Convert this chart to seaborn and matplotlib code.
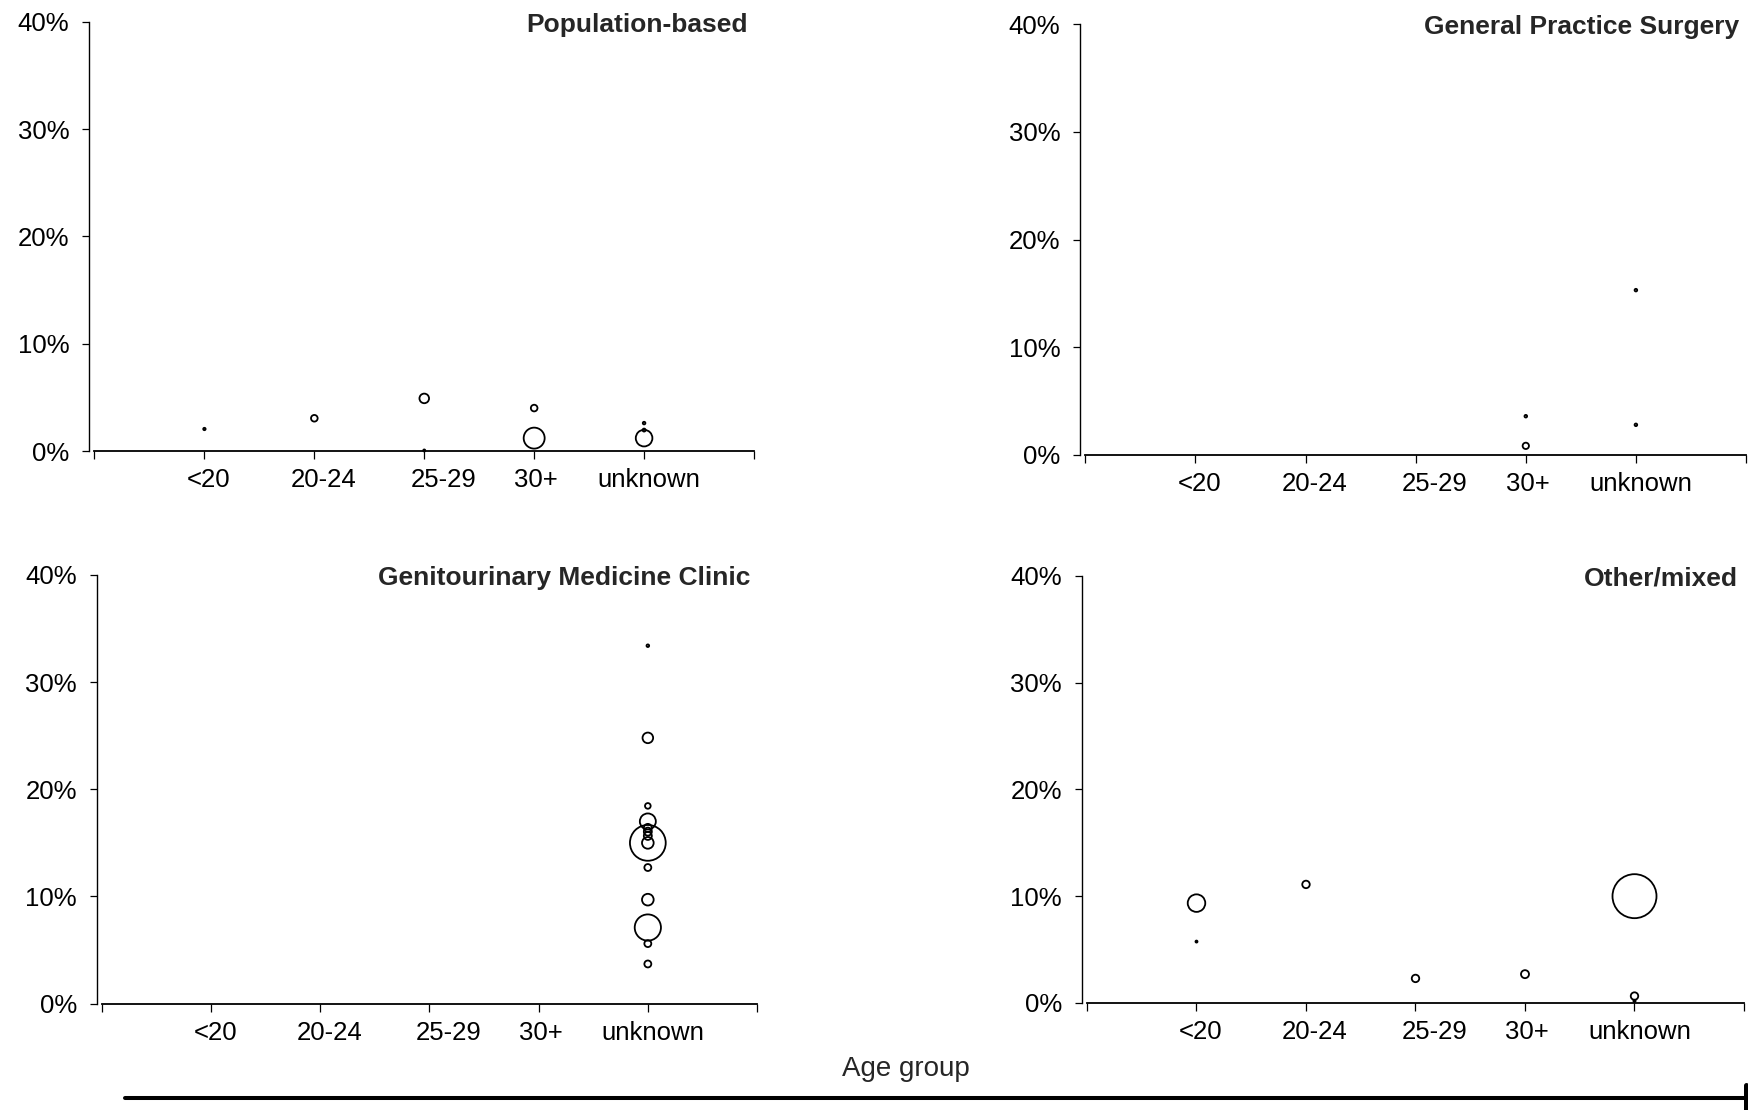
import matplotlib
matplotlib.use("Agg")
import matplotlib.pyplot as plt
from matplotlib.lines import Line2D
from matplotlib.ticker import FuncFormatter
from matplotlib.transforms import ScaledTranslation
import pandas as pd
import seaborn as sns

# ---- data -------------------------------------------------------------
AGE_GROUPS = ["<20", "20-24", "25-29", "30+", "unknown"]
Y_TICKS = [0, 10, 20, 30, 40]

# Population-based studies
pop_age = ["<20", "20-24", "25-29", "25-29", "30+", "30+", "unknown", "unknown", "unknown"]
pop_pct = [2.05, 3.05, 4.9, 0.05, 4.0, 1.2, 2.6, 1.95, 1.2]
pop_n = [14, 110, 230, 10, 110, 1100, 17, 22, 690]

# General practice surgery studies
gp_age = ["30+", "30+", "unknown", "unknown"]
gp_pct = [3.6, 0.85, 15.3, 2.8]
gp_n = [17, 100, 17, 17]

# Genitourinary medicine clinic studies
gum_age = ["unknown"] * 14
gum_pct = [33.4, 24.8, 18.45, 17.0, 16.4, 16.05, 15.65, 15.0, 15.0, 12.7, 9.7, 7.1, 5.6, 3.7]
gum_n = [17, 280, 80, 640, 160, 160, 160, 3200, 340, 120, 340, 1720, 120, 120]

# Other / mixed settings
oth_age = ["<20", "<20", "20-24", "25-29", "30+", "unknown", "unknown", "unknown"]
oth_pct = [9.35, 5.75, 11.1, 2.3, 2.7, 10.0, 0.65, 0.2]
oth_n = [770, 10, 140, 140, 160, 4840, 140, 12]

PANELS = [
    ("Population-based", pop_age, pop_pct, pop_n),
    ("General Practice Surgery", gp_age, gp_pct, gp_n),
    ("Genitourinary Medicine Clinic", gum_age, gum_pct, gum_n),
    ("Other/mixed", oth_age, oth_pct, oth_n),
]

# ---- layout -----------------------------------------------------------
W, H = 1749, 1110
# axes rectangles in pixels: (x0, x1, y_top, y_bottom)
RECTS_PX = [
    (94.5, 754.0, 21.7, 451.0),
    (1085.4, 1746.0, 24.0, 455.0),
    (102.0, 757.0, 575.0, 1003.6),
    (1087.0, 1744.0, 575.7, 1003.0),
]
# horizontal nudge (px) of each category label relative to its tick
LABEL_NUDGE_PX = [4, 9, 19, 2, 5]

N_MAX = 5000
S_MAX = 0.2074 * N_MAX  # marker area in pt^2 proportional to study size

sns.set_style("ticks")
plt.rcParams["font.family"] = ["Liberation Sans", "DejaVu Sans"]
plt.rcParams["axes.linewidth"] = 1.0
plt.rcParams["xtick.color"] = "black"
plt.rcParams["ytick.color"] = "black"
plt.rcParams["axes.edgecolor"] = "black"

fig = plt.figure(figsize=(W / 100, H / 100), dpi=100)

pos = {g: i + 1 for i, g in enumerate(AGE_GROUPS)}

for (title, ages, pct, n), (x0, x1, yt, yb) in zip(PANELS, RECTS_PX):
    ax = fig.add_axes([x0 / W, 1 - yb / H, (x1 - x0) / W, (yb - yt) / H])
    df = pd.DataFrame({"age": ages, "pct": pct, "n": n})
    df["xpos"] = df["age"].map(pos)
    sns.scatterplot(
        data=df, x="xpos", y="pct", size="n",
        sizes=(0, S_MAX), size_norm=(0, N_MAX),
        marker="o", facecolor="none", edgecolor="black", linewidth=1.3,
        legend=False, clip_on=False, ax=ax, zorder=3,
    )
    ax.set_xlim(0, 6)
    ax.set_ylim(0, 40)
    ax.set_xticks(range(0, 7))
    ax.set_xticklabels([""] + AGE_GROUPS + [""])
    ax.set_yticks(Y_TICKS)
    ax.yaxis.set_major_formatter(FuncFormatter(lambda v, _: f"{v:.0f}%"))
    ax.set_xlabel("")
    ax.set_ylabel("")
    ax.tick_params(axis="x", direction="out", length=5.8, width=0.9,
                   labelsize=18.5, pad=6.5)
    ax.tick_params(axis="y", direction="out", length=5.4, width=0.9,
                   labelsize=18.5, pad=9)
    for lab, dx in zip(ax.get_xticklabels()[1:6], LABEL_NUDGE_PX):
        lab.set_transform(lab.get_transform()
                          + ScaledTranslation(dx / 100, 0, fig.dpi_scale_trans))
    for side in ("top", "right"):
        ax.spines[side].set_visible(False)
    ax.spines["left"].set_position(("outward", 3.6))
    ax.spines["bottom"].set_linewidth(1.3)
    ax.text(0.99, 0.993, title, transform=ax.transAxes, ha="right",
            va="center", fontsize=19, fontweight="bold")

fig.text(906 / W, 1 - 1069 / H, "Age group", ha="center", va="center",
         fontsize=20)

# horizontal rule beneath the shared axis label, closed by a short bar
fig.add_artist(Line2D([125 / W, 1745 / W], [1 - 1098 / H] * 2,
                      transform=fig.transFigure, color="black", lw=2.9))
fig.add_artist(Line2D([1746.5 / W] * 2, [1 - 1085 / H, 1 - 1110 / H],
                      transform=fig.transFigure, color="black", lw=3.6))

fig.savefig("out.png", dpi=100, facecolor="white")
